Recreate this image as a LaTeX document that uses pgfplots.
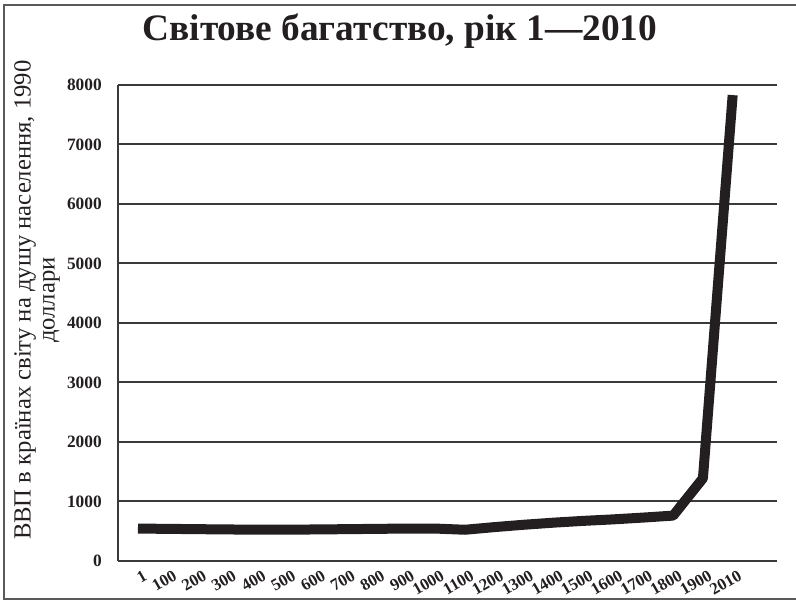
\documentclass[border=0pt]{standalone}
\usepackage{fontspec}
\setmainfont{Liberation Serif}
\usepackage{pgfplots}
\pgfplotsset{compat=1.18}
\definecolor{inkblack}{HTML}{231F20}
\definecolor{gridgray}{HTML}{3A3A3A}
\definecolor{framegray}{HTML}{5A5A5A}
\begin{document}
\begin{tikzpicture}
\useasboundingbox (-88.5pt,-30.75pt) rectangle (508.5pt,420.75pt);
\draw[framegray, line width=1.1pt] (510pt,417pt) -- (-85.5pt,417pt) -- (-85.5pt,-28.5pt) -- (510pt,-28.5pt);
\begin{axis}[
  at={(0,0)}, anchor=south west,
  scale only axis, width=494pt, height=357pt,
  xmin=-0.672, xmax=21.48, ymin=0, ymax=8000,
  clip=false,
  axis x line*=bottom, axis y line*=left,
  axis line style={line width=1.9pt, color=gridgray, -},
  major tick length=0pt,
  ymajorgrids, grid style={line width=1.5pt, color=gridgray},
  ytick={0,1000,...,8000},
  xtick={0,...,20},
  xticklabels={1,100,200,300,400,500,600,700,800,900,1000,1100,1200,1300,1400,1500,1600,1700,1800,1900,2010},
  /pgf/number format/assume math mode=true,
  /pgf/number format/1000 sep={},
  yticklabel style={font=\bfseries\fontsize{13}{15}\selectfont, inner sep=0pt, xshift=-12pt, text=inkblack},
  xticklabel style={font=\bfseries\fontsize{12.5}{14}\selectfont, rotate=30, anchor=north east, inner sep=0pt, yshift=-7pt, text=inkblack},
  title={Світове багатство, рік 1—2010},
  title style={font=\bfseries\fontsize{28}{32}\selectfont, at={(axis description cs:0.428,1.0777)}, anchor=base, text=inkblack},
  ylabel={ВВП в країнах світу на душу населення, 1990\\доллари},
  ylabel style={font=\fontsize{18.5}{18}\selectfont, align=center, at={(axis description cs:-0.123,0.548)}, anchor=center, text=inkblack},
]
\addplot[inkblack, line width=7.5pt, line join=round, line cap=butt] coordinates {
(0,545) (1,540) (2,535) (3,530) (4,527) (5,527) (6,530) (7,535) (8,540) (9,545) (10,545)
(11,525) (12,570) (13,610) (14,645) (15,675) (16,700) (17,730) (18,763) (19,1390) (20,7830)
};
\end{axis}
\end{tikzpicture}
\end{document}
